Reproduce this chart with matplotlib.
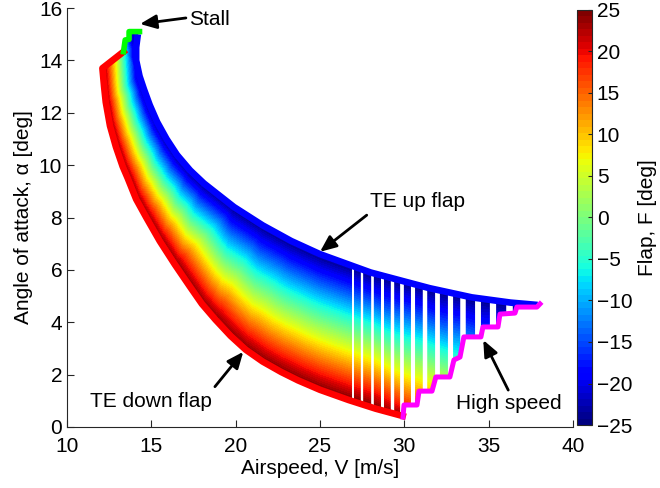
import matplotlib
matplotlib.use('Agg')
import matplotlib.pyplot as plt
import matplotlib.tri as mtri
import numpy as np
from matplotlib.path import Path
from matplotlib.patches import PathPatch

plt.rcParams['font.family'] = ['Liberation Sans', 'DejaVu Sans']
plt.rcParams['font.size'] = 15

# upper edge (TE up flap, F = -25)
v_up = [14.2, 14.1, 14.1, 14.3, 14.56, 14.9, 15.34, 15.9, 16.52, 17.3, 18.12, 19.9,
        21.6, 23.3, 25.0, 28.0, 31.5, 34.0, 36.3, 37.9]
a_up = [15.0, 14.5, 14.0, 13.4, 12.9, 12.3, 11.65, 11.0, 10.39, 9.8, 9.3, 8.4,
        7.7, 7.1, 6.6, 5.9, 5.3, 4.95, 4.75, 4.66]

# lower edge (TE down flap, F = +25)
v_dn = [12.1, 12.2, 12.3, 12.55, 12.9, 13.3, 13.6, 14.1, 14.7, 15.5, 16.4, 17.3, 18.0,
        18.8, 19.7, 20.6, 21.6, 22.7, 23.7, 25.0, 26.7, 28.3, 29.9]
a_dn = [13.7, 13.0, 12.4, 11.5, 10.7, 9.95, 9.5, 8.7, 8.0, 7.1, 6.2, 5.35, 4.7,
        4.1, 3.48, 2.95, 2.5, 2.1, 1.78, 1.42, 1.03, 0.7, 0.42]

# stall boundary, from the lower-left corner up to the top
v_st = [12.1, 13.35, 13.45, 13.68, 13.68, 14.3]
a_st = [13.7, 14.33, 14.78, 14.8, 15.1, 15.1]
f_st = [25, -5, -12, -18, -22, -25]

# high speed boundary, from bottom to top
v_hs = [29.92, 29.98, 30.75, 30.87, 31.64, 31.87, 32.70, 32.94, 33.30, 33.53,
        34.54, 34.66, 35.55, 35.67, 36.56, 36.67, 37.86, 38.04]
a_hs = [0.38, 0.84, 0.84, 1.37, 1.37, 1.91, 1.91, 2.56, 2.67, 3.44,
        3.44, 3.82, 3.82, 4.31, 4.35, 4.58, 4.58, 4.70]
f_hs = [25, 18, 16, 11, 9, 4, 2, -4, -5, -12, -13, -17, -17, -21, -21, -23, -23, -25]

# white gaps between the speed columns
v_gap = [26.95, 27.47, 28.06, 28.65, 29.25, 29.84, 30.53, 31.22, 31.91, 32.70, 33.49,
         34.38, 35.26, 36.2, 37.2]

cmap = plt.get_cmap('jet', 64)

fig = plt.figure(figsize=(6.6, 4.88), dpi=100)
ax = fig.add_axes([0.1015, 0.125, 0.7667, 0.8586])
cax = fig.add_axes([0.874, 0.129, 0.0227, 0.851])

# outline of the band: top edge, high speed edge, bottom edge, stall edge
ov = v_up + v_hs[::-1][1:] + v_dn[::-1][1:-1] + v_st
oa = a_up + a_hs[::-1][1:] + a_dn[::-1][1:-1] + a_st
of = [-25] * len(v_up) + f_hs[::-1][1:] + [25] * (len(v_dn) - 2) + f_st
ov, oa, of = np.array(ov), np.array(oa), np.array(of, dtype=float)

outline = Path(np.column_stack([ov, oa]))
tri = mtri.Triangulation(ov, oa)
cx = ov[tri.triangles].mean(axis=1)
cy = oa[tri.triangles].mean(axis=1)
tri.set_mask(~outline.contains_points(np.column_stack([cx, cy])))

clip = PathPatch(outline, transform=ax.transData, fc='none', ec='none')
ax.add_patch(clip)
cs = ax.tricontourf(tri, of, levels=np.linspace(-25, 25, 65), cmap=cmap,
                    vmin=-25, vmax=25, antialiased=False)
cs.set_clip_path(clip)

gap_lw = np.linspace(1.4, 5.0, len(v_gap))
for v, w in zip(v_gap, gap_lw):
    ln = ax.axvline(v, color='white', lw=w, zorder=2)
    ln.set_clip_path(clip)

ax.plot(v_up, a_up, color='#0000ff', lw=4.8, zorder=3, solid_capstyle='butt')
ax.plot([v_st[1]] + v_dn, [a_st[1]] + a_dn, color='#ff0000', lw=4.8, zorder=3)
ax.plot(v_st[1:], a_st[1:], color='#00ff00', lw=4.0, zorder=3)
ax.plot(v_hs, a_hs, color='#ff00ff', lw=3.6, zorder=4)

arw = dict(arrowstyle='-|>,head_length=0.7,head_width=0.3', lw=2, color='k',
           mutation_scale=14, shrinkA=0, shrinkB=0)
ax.annotate('', xy=(14.33, 15.39), xytext=(17.05, 15.62), arrowprops=arw)
ax.text(18.42, 15.55, 'Stall', ha='center', va='center')
ax.annotate('', xy=(25.0, 6.69), xytext=(27.77, 8.09), arrowprops=arw)
ax.text(30.78, 8.6, 'TE up flap', ha='center', va='center')
ax.annotate('', xy=(20.45, 2.87), xytext=(18.77, 1.54), arrowprops=arw)
ax.text(15.0, 0.97, 'TE down flap', ha='center', va='center')
ax.annotate('', xy=(34.68, 3.32), xytext=(36.16, 1.41), arrowprops=arw)
ax.text(36.2, 0.9, 'High speed', ha='center', va='center')

ax.set_xlim(10, 40)
ax.set_ylim(0, 16)
ax.set_xticks(range(10, 41, 5))
ax.set_yticks(range(0, 17, 2))
ax.set_xlabel('Airspeed, V [m/s]', labelpad=2)
ax.set_ylabel('Angle of attack, α [deg]')
for s in ['top', 'right']:
    ax.spines[s].set_visible(False)
for s in ['left', 'bottom']:
    ax.spines[s].set_color('#262626')
ax.tick_params(direction='in', length=5, color='#262626')
ax.tick_params(axis='x', pad=7)

sm = plt.cm.ScalarMappable(cmap=cmap, norm=plt.Normalize(-25, 25))
cb = fig.colorbar(sm, cax=cax, ticks=range(-25, 26, 5))
cb.outline.set_edgecolor('#262626')
cb.ax.tick_params(direction='in', length=3, color='#262626')
cb.set_label('Flap, F [deg]')

fig.savefig('out.png', dpi=100)
